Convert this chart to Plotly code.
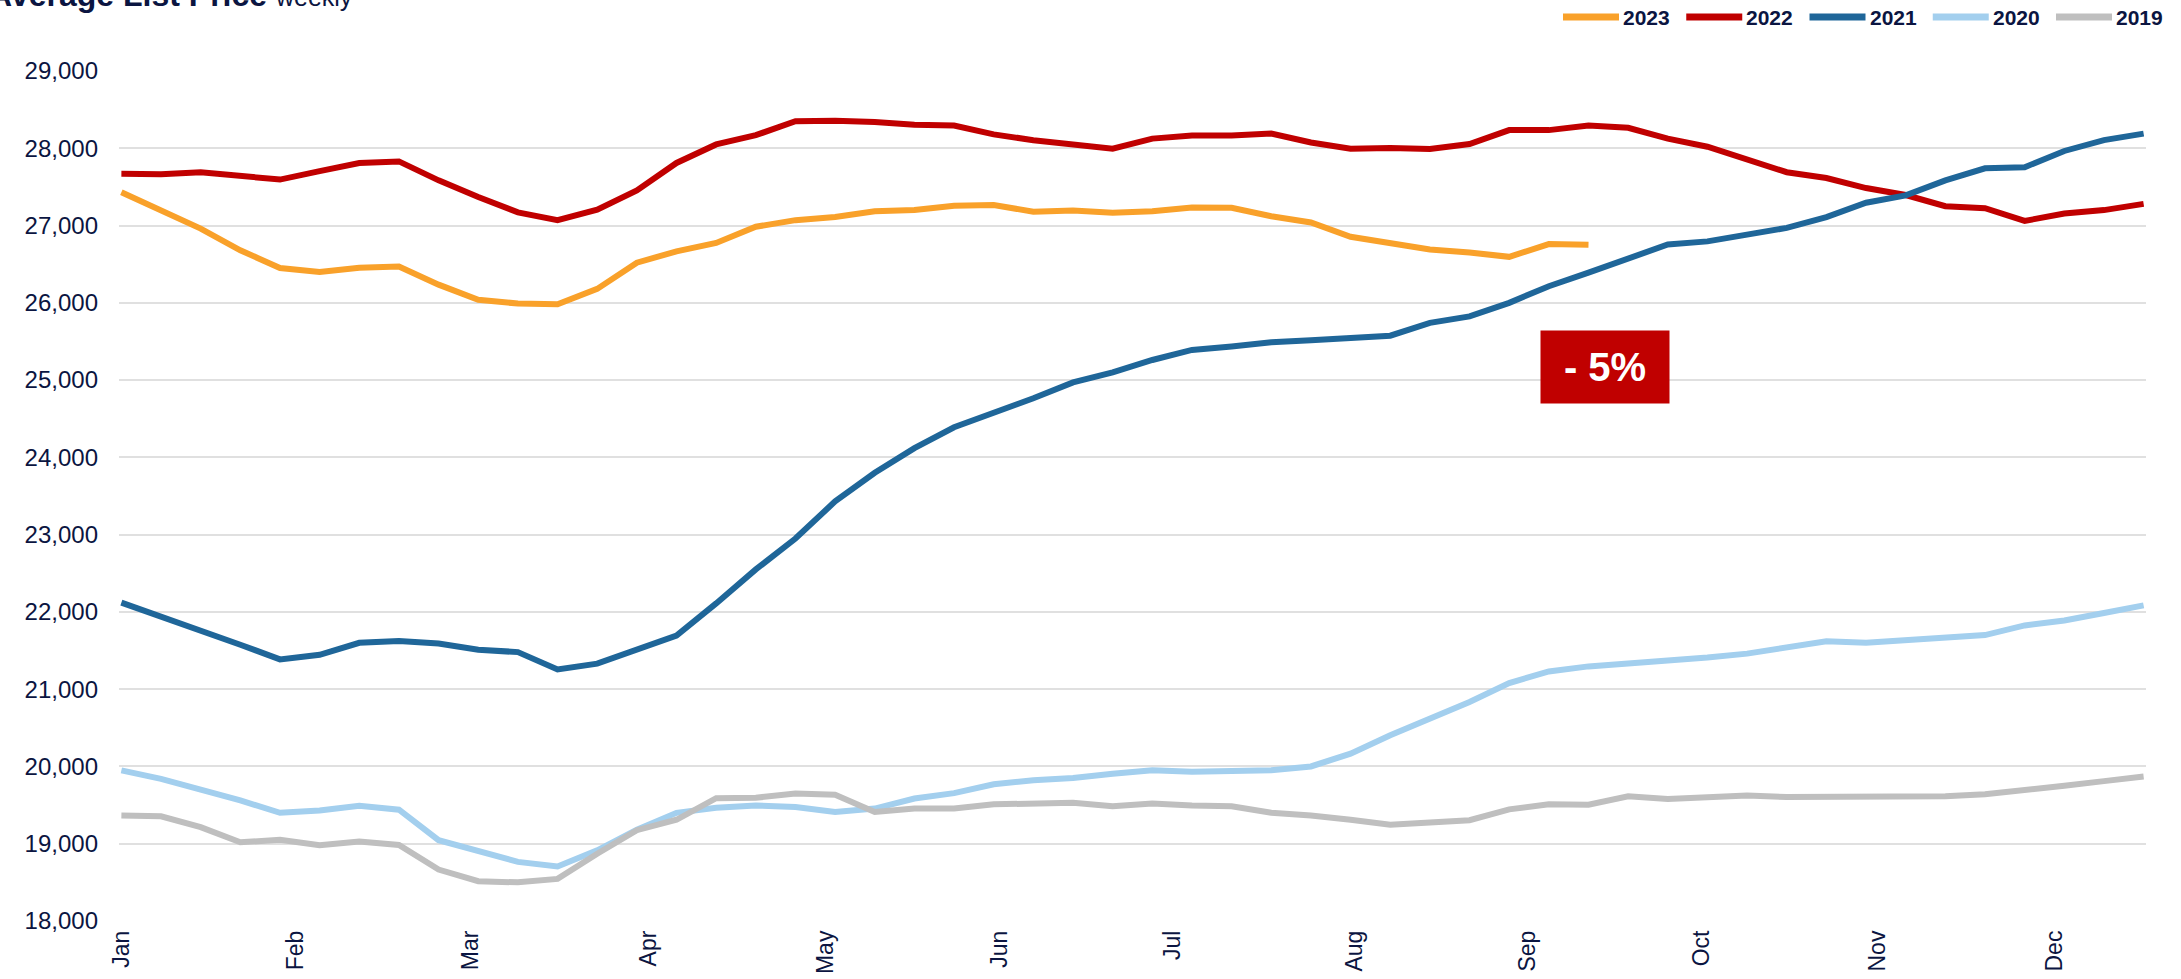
import plotly.graph_objects as go

# ---------------- data ----------------
years = ["2023", "2022", "2021", "2020", "2019"]
colors = ["#F9A12A", "#C00000", "#1F6699", "#A3CFEE", "#BFBFBF"]

v2023 = [27430, 27200, 26960, 26680, 26450, 26400, 26455, 26470, 26235, 26040, 25990, 25980, 26180,
         26520, 26665, 26775, 26985, 27070, 27110, 27185, 27200, 27255, 27265, 27180, 27195, 27165,
         27185, 27235, 27230, 27120, 27040, 26855, 26765, 26690, 26650, 26595, 26760, 26750]
v2022 = [27670, 27665, 27690, 27640, 27595, 27705, 27810, 27830, 27585, 27370, 27170, 27070, 27205,
         27455, 27810, 28050, 28170, 28350, 28355, 28340, 28305, 28295, 28180, 28105, 28050, 27995,
         28125, 28165, 28165, 28190, 28075, 27995, 28005, 27990, 28055, 28235, 28235, 28295, 28265,
         28125, 28020, 27855, 27690, 27615, 27485, 27395, 27250, 27225, 27060, 27155, 27200, 27280]
v2021 = [22120, 21945, 21755, 21575, 21385, 21445, 21600, 21625, 21590, 21510, 21480, 21255, 21330,
         21510, 21695, 22110, 22550, 22950, 23430, 23800, 24120, 24390, 24570, 24765, 24970, 25100,
         25260, 25390, 25435, 25490, 25515, 25545, 25575, 25740, 25825, 26000, 26215, 26390, 26565,
         26755, 26795, 26880, 26970, 27110, 27295, 27390, 27585, 27740, 27755, 27965, 28105, 28190]
v2020 = [19950, 19840, 19700, 19560, 19400, 19430, 19490, 19440, 19045, 18895, 18765, 18705, 18915,
         19180, 19400, 19465, 19495, 19475, 19410, 19455, 19585, 19655, 19770, 19820, 19850, 19905,
         19950, 19930, 19935, 19950, 20000, 20165, 20405, 20620, 20835, 21080, 21230, 21295, 21330,
         21365, 21410, 21460, 21540, 21620, 21600, 21635, 21655, 21700, 21825, 21890, 21985, 22085]
v2019 = [19365, 19355, 19215, 19020, 19050, 18980, 19030, 18985, 18665, 18515, 18500, 18545, 18870,
         19175, 19310, 19590, 19595, 19650, 19635, 19410, 19455, 19455, 19510, 19520, 19530, 19485,
         19520, 19495, 19485, 19400, 19365, 19310, 19245, 19275, 19305, 19445, 19510, 19505, 19615,
         19580, 19605, 19625, 19605, 19605, 19605, 19615, 19615, 19640, 19690, 19750, 19810, 19870]

month_labels = ["Jan", "Feb", "Mar", "Apr", "May", "Jun", "Jul", "Aug", "Sep", "Oct", "Nov", "Dec"]
month_ticks = [0, 4.4, 8.8, 13.3, 17.75, 22.15, 26.5, 31.1, 35.45, 39.85, 44.3, 48.75]
y_ticks = [18000, 19000, 20000, 21000, 22000, 23000, 24000, 25000, 26000, 27000, 28000, 29000]

series = [v2023, v2022, v2021, v2020, v2019]

# ---------------- layout constants ----------------
W, H = 2181, 979
ML, MR, MT, MB = 119, 35, 71, 58
PW, PH = W - ML - MR, H - MT - MB
NAVY = "#0B1541"
FONT = "Liberation Sans, Arial, sans-serif"

fig = go.Figure()
for name, col, vals in zip(years, colors, series):
    fig.add_trace(go.Scatter(
        x=list(range(len(vals))), y=vals, mode="lines", name=name,
        line=dict(color=col, width=6), showlegend=False, hoverinfo="x+y+name"))


def px_to_paper_x(px):
    return (px - ML) / PW


def px_to_paper_y(py):
    return (H - MB - py) / PH


# manual legend (long swatches as in reference)
shapes = []
annotations = []
for i, (name, col) in enumerate(zip(years, colors)):
    x0 = 1563 + 123.25 * i
    shapes.append(dict(type="line", xref="paper", yref="paper",
                       x0=px_to_paper_x(x0), x1=px_to_paper_x(x0 + 56),
                       y0=px_to_paper_y(17), y1=px_to_paper_y(17),
                       line=dict(color=col, width=7)))
    annotations.append(dict(xref="paper", yref="paper", x=px_to_paper_x(x0 + 58),
                            y=px_to_paper_y(17), xanchor="left", yanchor="middle",
                            text=f"<b>{name}</b>", showarrow=False,
                            font=dict(family=FONT, size=21, color=NAVY)))

# clipped title at top-left
annotations.append(dict(xref="paper", yref="paper", x=px_to_paper_x(-13), y=px_to_paper_y(5),
                        xanchor="left", yanchor="bottom", yshift=-10,
                        text="<b>Average List Price</b> <span style='font-size:25px'>weekly</span>",
                        showarrow=False, font=dict(family=FONT, size=32, color=NAVY)))

# -5% label
annotations.append(dict(x=37.42, y=25170, xref="x", yref="y", text="<b>- 5%</b>",
                        showarrow=False, bgcolor="#C00000", width=128, height=72,
                        borderpad=0, align="center", valign="middle",
                        font=dict(family=FONT, size=40, color="white")))

fig.update_layout(
    width=W, height=H,
    margin=dict(l=ML, r=MR, t=MT, b=MB, autoexpand=False),
    paper_bgcolor="white", plot_bgcolor="white",
    font=dict(family=FONT, color=NAVY),
    shapes=shapes, annotations=annotations,
    showlegend=False,
)
fig.update_xaxes(
    range=[-0.06, 51.06], tickmode="array", tickvals=month_ticks, ticktext=month_labels,
    tickangle=-90, tickfont=dict(family=FONT, size=23, color=NAVY),
    showgrid=False, zeroline=False, showline=False, ticks="",
    ticklabelstandoff=4, automargin=False, fixedrange=True)
fig.update_yaxes(
    range=[18000, 29000], tickmode="array", tickvals=y_ticks, tickformat=",d",
    tickfont=dict(family=FONT, size=24, color=NAVY),
    showgrid=True, gridcolor="#E0E0E0", gridwidth=2, zeroline=False, showline=False,
    ticks="", ticklabelstandoff=20, automargin=False, fixedrange=True)

fig.write_html("out.html", config={"displayModeBar": False},
               post_script="document.body.style.margin='0';document.body.style.overflow='hidden';")
